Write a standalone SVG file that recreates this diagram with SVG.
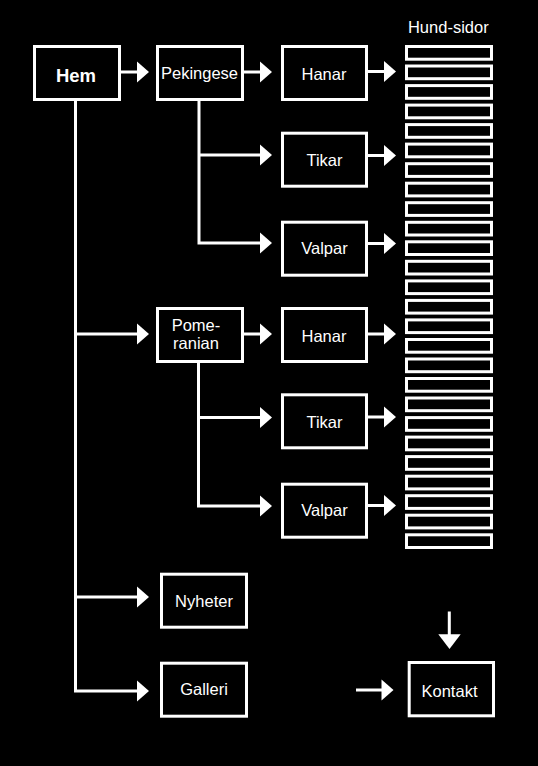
<svg xmlns="http://www.w3.org/2000/svg" xmlns:xlink="http://www.w3.org/1999/xlink" width="538" height="766" viewBox="0 0 538 766">
<style>
  .box { fill: #000; stroke: #fff; stroke-width: 3; }
  .pg { fill: #000; stroke: #fff; stroke-width: 3; }
  .lbl { fill: #fff; font-family: "Liberation Sans", Arial, sans-serif; font-size: 16.5px; text-anchor: middle; }
  .bold { font-weight: bold; font-size: 18.5px; }
  .ln { stroke: #fff; stroke-width: 3; fill: none; }
  .ah { fill: #fff; }
</style>
<defs>
  <path id="ah" d="M-12,-10.5 L0,0 L-12,10.5 Z"/>
</defs>
<rect width="538" height="766" fill="#000"/>

<g id="connectors">
  <!-- Hem trunk -->
  <path class="ln" d="M75.5,101 V692.5 M74,334 H138 M74,597 H138 M74,691 H138"/>
  <path class="ln" d="M121,72 H138 M244,72 H261 M368,71.5 H385"/>
  <!-- Pekingese trunk -->
  <path class="ln" d="M199,101 V244.5 M197.5,155 H261 M197.5,243 H261"/>
  <path class="ln" d="M368,155.5 H385 M368,243.5 H385"/>
  <!-- Pomeranian trunk -->
  <path class="ln" d="M244,334 H261 M198.5,363 V507.5 M197,417.5 H261 M197,506 H261"/>
  <path class="ln" d="M368,334 H385 M368,417 H385 M368,505.5 H385"/>
  <!-- Kontakt -->
  <path class="ln" d="M356,690 H382 M449.3,611.5 V635"/>
  <g class="ah">
    <use xlink:href="#ah" x="149" y="72"/>
    <use xlink:href="#ah" x="272" y="72"/>
    <use xlink:href="#ah" x="396" y="71.5"/>
    <use xlink:href="#ah" x="272" y="155"/>
    <use xlink:href="#ah" x="272" y="243"/>
    <use xlink:href="#ah" x="396" y="155.5"/>
    <use xlink:href="#ah" x="396" y="243.5"/>
    <use xlink:href="#ah" x="149" y="334"/>
    <use xlink:href="#ah" x="272" y="334"/>
    <use xlink:href="#ah" x="272" y="417.5"/>
    <use xlink:href="#ah" x="272" y="506"/>
    <use xlink:href="#ah" x="396" y="334"/>
    <use xlink:href="#ah" x="396" y="417"/>
    <use xlink:href="#ah" x="396" y="505.5"/>
    <use xlink:href="#ah" x="149" y="597"/>
    <use xlink:href="#ah" x="149" y="691"/>
    <use xlink:href="#ah" x="393.5" y="690"/>
    <polygon points="438.3,634.3 460.7,634.3 449.5,649"/>
  </g>
</g>

<g id="hem"><rect class="box" x="34.5" y="46.5" width="85" height="53"/><text class="lbl bold" x="76" y="81.5">Hem</text></g>
<g id="pekingese"><rect class="box" x="157.5" y="46.5" width="85" height="53"/><text class="lbl" x="199.5" y="79">Pekingese</text></g>
<g id="hanar1"><rect class="box" x="282.5" y="46.5" width="84" height="53"/><text class="lbl" x="324" y="80">Hanar</text></g>
<g id="tikar1"><rect class="box" x="282.5" y="133.2" width="84" height="53"/><text class="lbl" x="324.5" y="166">Tikar</text></g>
<g id="valpar1"><rect class="box" x="282.5" y="222.2" width="84" height="53"/><text class="lbl" x="324.5" y="254">Valpar</text></g>
<g id="pomeranian"><rect class="box" x="157.5" y="308.5" width="85" height="53"/><text class="lbl" x="196" y="330.5">Pome-</text><text class="lbl" x="196" y="349.3">ranian</text></g>
<g id="hanar2"><rect class="box" x="282.5" y="308.5" width="84" height="53"/><text class="lbl" x="324" y="342">Hanar</text></g>
<g id="tikar2"><rect class="box" x="282.5" y="394.8" width="84" height="53"/><text class="lbl" x="324.5" y="428.3">Tikar</text></g>
<g id="valpar2"><rect class="box" x="282.5" y="484.2" width="84" height="53"/><text class="lbl" x="324.5" y="516">Valpar</text></g>
<g id="nyheter"><rect class="box" x="161.5" y="574.2" width="85" height="53"/><text class="lbl" x="204" y="606.7">Nyheter</text></g>
<g id="galleri"><rect class="box" x="161.5" y="663.2" width="85" height="53"/><text class="lbl" x="204" y="695">Galleri</text></g>
<g id="kontakt"><rect class="box" x="409.2" y="662.5" width="84.3" height="53.3"/><text class="lbl" x="449.5" y="697.3">Kontakt</text></g>

<g id="hund-sidor">
  <text class="lbl" x="448.3" y="33">Hund-sidor</text>
  <rect class="pg" x="406.5" y="46.5" width="85" height="12.7"/>
  <rect class="pg" x="406.5" y="66" width="85" height="12.7"/>
  <rect class="pg" x="406.5" y="85.6" width="85" height="12.7"/>
  <rect class="pg" x="406.5" y="105.1" width="85" height="12.7"/>
  <rect class="pg" x="406.5" y="124.6" width="85" height="12.7"/>
  <rect class="pg" x="406.5" y="144.1" width="85" height="12.7"/>
  <rect class="pg" x="406.5" y="163.7" width="85" height="12.7"/>
  <rect class="pg" x="406.5" y="183.2" width="85" height="12.7"/>
  <rect class="pg" x="406.5" y="202.7" width="85" height="12.7"/>
  <rect class="pg" x="406.5" y="222.3" width="85" height="12.7"/>
  <rect class="pg" x="406.5" y="241.8" width="85" height="12.7"/>
  <rect class="pg" x="406.5" y="261.3" width="85" height="12.7"/>
  <rect class="pg" x="406.5" y="280.9" width="85" height="12.7"/>
  <rect class="pg" x="406.5" y="300.4" width="85" height="12.7"/>
  <rect class="pg" x="406.5" y="319.9" width="85" height="12.7"/>
  <rect class="pg" x="406.5" y="339.5" width="85" height="12.7"/>
  <rect class="pg" x="406.5" y="359" width="85" height="12.7"/>
  <rect class="pg" x="406.5" y="378.5" width="85" height="12.7"/>
  <rect class="pg" x="406.5" y="398" width="85" height="12.7"/>
  <rect class="pg" x="406.5" y="417.6" width="85" height="12.7"/>
  <rect class="pg" x="406.5" y="437.1" width="85" height="12.7"/>
  <rect class="pg" x="406.5" y="456.6" width="85" height="12.7"/>
  <rect class="pg" x="406.5" y="476.2" width="85" height="12.7"/>
  <rect class="pg" x="406.5" y="495.7" width="85" height="12.7"/>
  <rect class="pg" x="406.5" y="515.2" width="85" height="12.7"/>
  <rect class="pg" x="406.5" y="534.8" width="85" height="12.7"/>
</g>
</svg>
